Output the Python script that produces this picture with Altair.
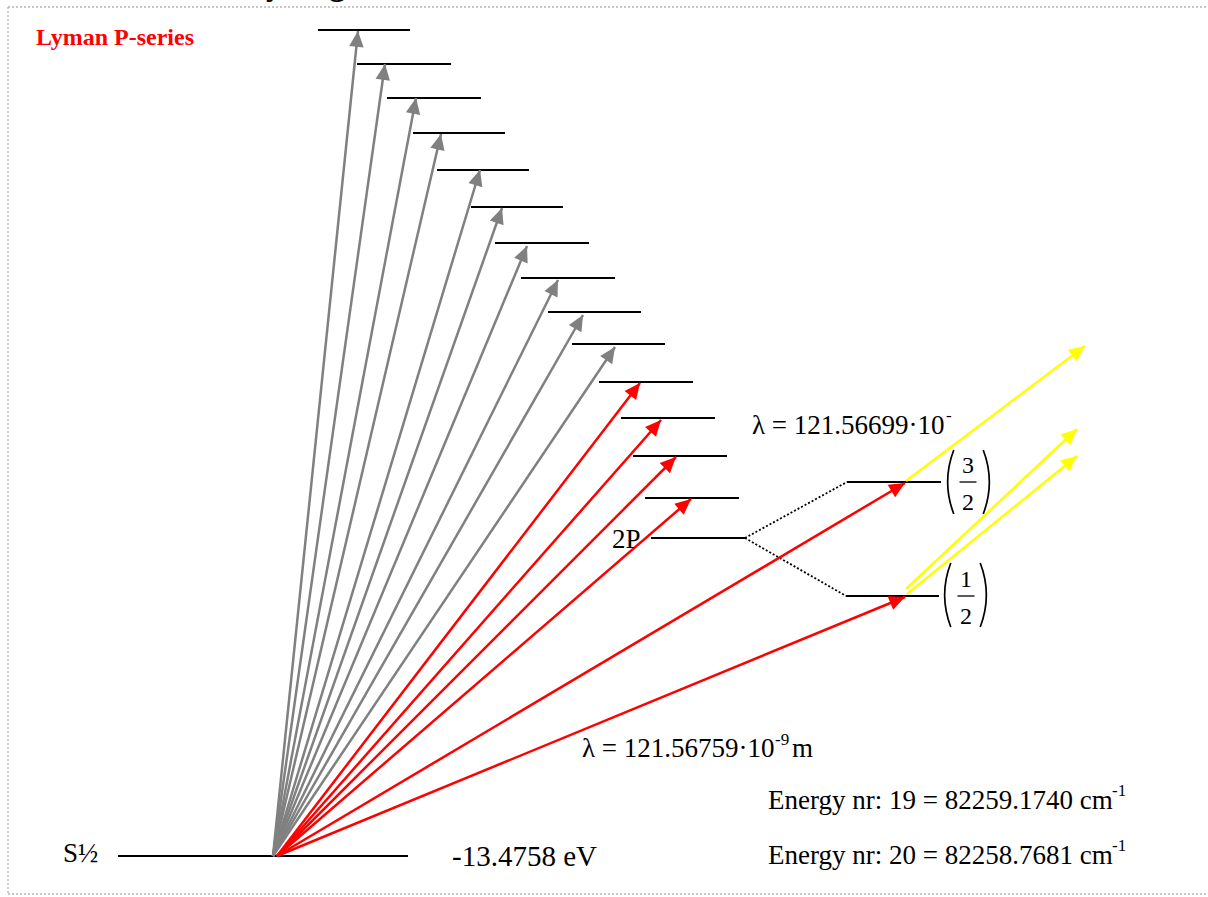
import math
import altair as alt
import pandas as pd

# ---------------- data (diagram units = page pixels, y downwards) ----------------
# energy level bars (15 excited P levels incl. 2P, the two fine-structure levels, ground S1/2)
level_x1 = [318, 357, 387, 413, 437, 471, 495, 521, 548, 572, 599, 621, 633, 645, 651, 847, 846, 118]
level_x2 = [410, 451, 481, 505, 529, 563, 589, 615, 641, 665, 693, 715, 727, 739, 745, 941, 939, 408]
level_y = [30, 64, 98, 133, 170, 207, 243, 278, 312, 344, 382, 418, 456, 498, 538, 482, 596, 856]

# transitions (start -> arrow tip)
arrow_x1 = [273] * 10 + [277] * 6 + [906, 906, 907]
arrow_y1 = [856] * 16 + [481, 589, 594]
arrow_x2 = [358, 385, 416, 441, 480, 502, 527, 558, 583, 615,
            640, 661, 676, 691, 905, 905,
            1085, 1077, 1077]
arrow_y2 = [31, 64, 98, 134, 170, 208, 246, 280, 315, 347,
            383, 420, 457, 499, 483, 597,
            346, 429, 456]
arrow_kind = ["higher"] * 10 + ["lower"] * 6 + ["emission"] * 3

# fine-structure splitting of 2P (dotted)
split_x1 = [745, 745]
split_y1 = [538, 538]
split_x2 = [847, 846]
split_y2 = [482, 596]

# labels, normal size
label_text = ["S½", "2P", "λ = 121.56699·10", "λ = 121.56759·10", "m",
              "Energy nr: 19 = 82259.1740 cm", "Energy nr: 20 = 82258.7681 cm"]
label_x = [63, 612, 752, 582, 792, 768, 768]
label_y = [862, 548, 434, 757, 757, 809, 864]
# ground level energy label (slightly larger)
ground_text = ["-13.4758 eV"]
ground_x = [452]
ground_y = [866]
# superscripts
sup_text = ["-", "-9", "-1", "-1"]
sup_x = [946, 775, 1112, 1112]
sup_y = [421, 745, 796, 851]

# j-value fractions (3/2) and (1/2)
frac_num = ["3", "1"]
frac_den = ["2", "2"]
frac_x = [968, 966]
frac_bar_y = [482, 596]
frac_bar_half = [8.5, 8.5]
paren_left_x = [947, 944]
paren_right_x = [990, 987]
paren_mid_y = [482, 595]

series_title = "Lyman P-series"
page_title = "Hydrogen"

# ---------------- build tables ----------------
levels = pd.DataFrame({"x1": level_x1, "x2": level_x2, "y": level_y})
arrows = pd.DataFrame({"x1": arrow_x1, "y1": arrow_y1, "x2": arrow_x2, "y2": arrow_y2, "kind": arrow_kind})
arrows["ang"] = [
    (math.degrees(math.atan2(b - a, -(d - c))) + 360) % 360
    for a, b, c, d in zip(arrows.x1, arrows.x2, arrows.y1, arrows.y2)
]
split = pd.DataFrame({"x1": split_x1, "y1": split_y1, "x2": split_x2, "y2": split_y2})

labels = pd.DataFrame({"t": label_text, "x": label_x, "y": label_y})
ground = pd.DataFrame({"t": ground_text, "x": ground_x, "y": ground_y})
sups = pd.DataFrame({"t": sup_text, "x": sup_x, "y": sup_y})

R = 90.0
parens = pd.DataFrame({
    "cx": [px + R for px in paren_left_x] + [px - R for px in paren_right_x],
    "cy": paren_mid_y + paren_mid_y,
    "side": ["L"] * len(paren_left_x) + ["R"] * len(paren_right_x),
})
fr_text = pd.DataFrame({
    "t": frac_num + frac_den,
    "x": frac_x + frac_x,
    "y": [b - 9 for b in frac_bar_y] + [b + 28 for b in frac_bar_y],
})
fr_bar = pd.DataFrame({
    "x1": [x - h for x, h in zip(frac_x, frac_bar_half)],
    "x2": [x + h for x, h in zip(frac_x, frac_bar_half)],
    "y": frac_bar_y,
})

W, H = 1208, 897
xs = alt.Scale(domain=[0, W], nice=False, zero=False)
ys = alt.Scale(domain=[0, H], nice=False, zero=False, reverse=True)


def X(f):
    return alt.X(f, type="quantitative", scale=xs, axis=None)


def Y(f):
    return alt.Y(f, type="quantitative", scale=ys, axis=None)


SERIF = "Liberation Serif"
color_scale = alt.Scale(domain=["higher", "lower", "emission"], range=["#808080", "#ff0000", "#ffff00"])


def text_layer(df, size, align="left", weight="normal", color="black"):
    return alt.Chart(df).mark_text(
        font=SERIF, fontSize=size, fontWeight=weight, align=align, baseline="alphabetic", color=color
    ).encode(x=X("x"), y=Y("y"), text="t:N")


# border (dotted)
border = pd.DataFrame({"x1": [8, 8, 8], "y1": [7, 7, 894], "x2": [1215, 8, 1215], "y2": [7, 894, 894]})
border_layer = alt.Chart(border).mark_rule(color="#b4b4b4", strokeWidth=1.3, strokeDash=[2, 2]).encode(
    x=X("x1"), y=Y("y1"), x2=alt.X2("x2"), y2=alt.Y2("y2"))

level_layer = alt.Chart(levels).mark_rule(color="black", strokeWidth=2).encode(
    x=X("x1"), x2=alt.X2("x2"), y=Y("y"))

split_layer = alt.Chart(split).mark_rule(color="black", strokeWidth=1.8, strokeDash=[2, 2]).encode(
    x=X("x1"), y=Y("y1"), x2=alt.X2("x2"), y2=alt.Y2("y2"))

shaft_layer = alt.Chart(arrows).mark_rule(strokeWidth=2.5).encode(
    x=X("x1"), y=Y("y1"), x2=alt.X2("x2"), y2=alt.Y2("y2"),
    color=alt.Color("kind:N", scale=color_scale, legend=None))

head_layer = alt.Chart(arrows).mark_point(
    shape="M0,0 L-0.46,1 L0.46,1 Z", filled=True, opacity=1, size=1000, strokeWidth=0).encode(
    x=X("x2"), y=Y("y2"),
    angle=alt.Angle("ang:Q", scale=None),
    color=alt.Color("kind:N", scale=color_scale, legend=None))

label_layer = text_layer(labels, 27)
ground_layer = text_layer(ground, 29)
sup_layer = text_layer(sups, 17)
frac_layer = text_layer(fr_text, 24, align="center")

bar_layer = alt.Chart(fr_bar).mark_rule(color="black", strokeWidth=1.3).encode(
    x=X("x1"), x2=alt.X2("x2"), y=Y("y"))

a = math.radians(21)
lp = alt.Chart(parens[parens.side == "L"]).mark_arc(
    radius=R, radius2=R - 1.7, theta=1.5 * math.pi - a, theta2=1.5 * math.pi + a, color="black").encode(
    x=X("cx"), y=Y("cy"))
rp = alt.Chart(parens[parens.side == "R"]).mark_arc(
    radius=R, radius2=R - 1.7, theta=0.5 * math.pi - a, theta2=0.5 * math.pi + a, color="black").encode(
    x=X("cx"), y=Y("cy"))

series_layer = text_layer(pd.DataFrame({"t": [series_title], "x": [36], "y": [45]}), 24,
                          weight="bold", color="#ff0000")
title_layer = text_layer(pd.DataFrame({"t": [page_title], "x": [241], "y": [-5]}), 32, weight="bold")

chart = alt.layer(
    border_layer, level_layer, split_layer, shaft_layer, head_layer,
    label_layer, ground_layer, sup_layer, frac_layer, bar_layer, lp, rp, series_layer, title_layer,
).properties(width=W, height=H, padding=0, autosize="none").configure_view(stroke=None)

chart.save("out.html", embed_options={"renderer": "svg", "actions": False})
